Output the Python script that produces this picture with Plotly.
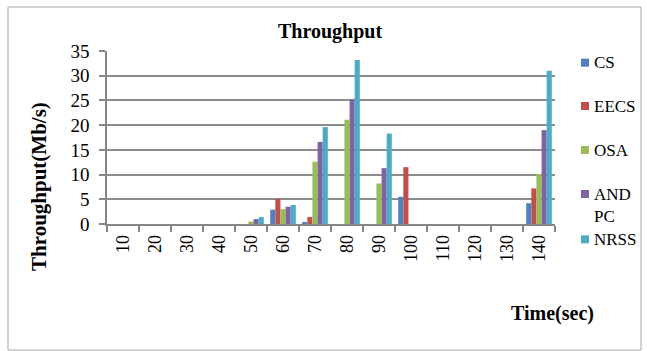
import plotly.graph_objects as go

categories = ["10", "20", "30", "40", "50", "60", "70", "80", "90", "100", "110", "120", "130", "140"]
cs = [0, 0, 0, 0, 0, 2.9, 0.4, 0, 0, 5.5, 0, 0, 0, 4.2]
eecs = [0, 0, 0, 0, 0, 5.1, 1.4, 0, 0, 11.5, 0, 0, 0, 7.2]
osa = [0, 0, 0, 0, 0.5, 3.0, 12.6, 21.1, 8.2, 0, 0, 0, 0, 10.1]
andpc = [0, 0, 0, 0, 1.0, 3.5, 16.6, 25.2, 11.3, 0, 0, 0, 0, 19.0]
nrss = [0, 0, 0, 0, 1.4, 3.85, 19.6, 33.2, 18.3, 0, 0, 0, 0, 31.0]

series_names = ["CS", "EECS", "OSA", "AND PC", "NRSS"]
legend_labels = ["CS", "EECS", "OSA", "AND<br>PC", "NRSS"]
series_values = [cs, eecs, osa, andpc, nrss]
colors = ["#4F81BD", "#C0504D", "#9BBB59", "#8064A2", "#4BACC6"]

W, H = 647, 351
L, R, T, B = 107, 92, 51, 127
PW, PH = W - L - R, H - T - B

def px(x):
    return (x - L) / PW

def py(y):
    return (H - B - y) / PH

FONT = "Liberation Serif, Times New Roman, serif"

fig = go.Figure()
for name, vals, col in zip(series_names, series_values, colors):
    fig.add_trace(go.Bar(x=categories, y=vals, name=name,
                         marker=dict(color=col, line=dict(width=0)),
                         showlegend=False))

shapes = []
annotations = []
# outer border
shapes.append(dict(type="rect", xref="paper", yref="paper",
                   x0=px(8), x1=px(641), y0=py(350), y1=py(7),
                   line=dict(color="#A6A6A6", width=1), fillcolor="rgba(0,0,0,0)", layer="below"))

# legend (manual)
leg_y = [62.7, 106, 150, 194, 239.3]
for lab, col, yy in zip(legend_labels, colors, leg_y):
    shapes.append(dict(type="rect", xref="paper", yref="paper",
                       x0=px(581), x1=px(589), y0=py(yy + 4), y1=py(yy - 4),
                       line=dict(width=0), fillcolor=col))
    if "<br>" in lab:
        annotations.append(dict(text=lab, xref="paper", yref="paper", x=px(592), y=py(yy - 11),
                                xanchor="left", yanchor="top", showarrow=False, align="left",
                                font=dict(family=FONT, size=17, color="black")))
    else:
        annotations.append(dict(text=lab, xref="paper", yref="paper", x=px(592), y=py(yy),
                                xanchor="left", yanchor="middle", showarrow=False, align="left",
                                font=dict(family=FONT, size=17, color="black")))

# titles
annotations.append(dict(text="<b>Throughput</b>", xref="paper", yref="paper", x=px(330), y=py(31),
                        xanchor="center", yanchor="middle", showarrow=False,
                        font=dict(family=FONT, size=20, color="black")))
annotations.append(dict(text="<b>Throughput(Mb/s)</b>", xref="paper", yref="paper", x=px(39), y=py(187),
                        xanchor="center", yanchor="middle", showarrow=False, textangle=-90,
                        font=dict(family=FONT, size=21, color="black")))
annotations.append(dict(text="<b>Time(sec)</b>", xref="paper", yref="paper", x=px(552), y=py(313),
                        xanchor="center", yanchor="middle", showarrow=False,
                        font=dict(family=FONT, size=20, color="black")))

fig.update_layout(
    width=W, height=H,
    margin=dict(l=L, r=R, t=T, b=B, autoexpand=False),
    paper_bgcolor="white", plot_bgcolor="white",
    barmode="group", bargap=0.2, bargroupgap=0,
    shapes=shapes, annotations=annotations,
    font=dict(family=FONT, color="black"),
)
fig.update_xaxes(type="category", categoryorder="array", categoryarray=categories,
                 tickangle=-90, ticks="outside", tickson="boundaries", ticklen=6,
                 tickcolor="#868686", tickwidth=1.5,
                 showline=True, linecolor="#868686", linewidth=1.5,
                 showgrid=False, ticklabelstandoff=2,
                 tickfont=dict(family=FONT, size=18, color="black"))
fig.update_yaxes(range=[0, 35], dtick=5, ticks="outside", ticklen=6,
                 tickcolor="#868686", tickwidth=1.5,
                 showline=True, linecolor="#868686", linewidth=1.5,
                 showgrid=True, gridcolor="#8C8C8C", gridwidth=1.5,
                 zeroline=False, ticklabelstandoff=6,
                 tickfont=dict(family=FONT, size=19, color="black"))

fig.write_html("out.html", config={"displayModeBar": False},
               post_script="document.body.style.margin='0px';document.body.style.overflow='hidden';")
